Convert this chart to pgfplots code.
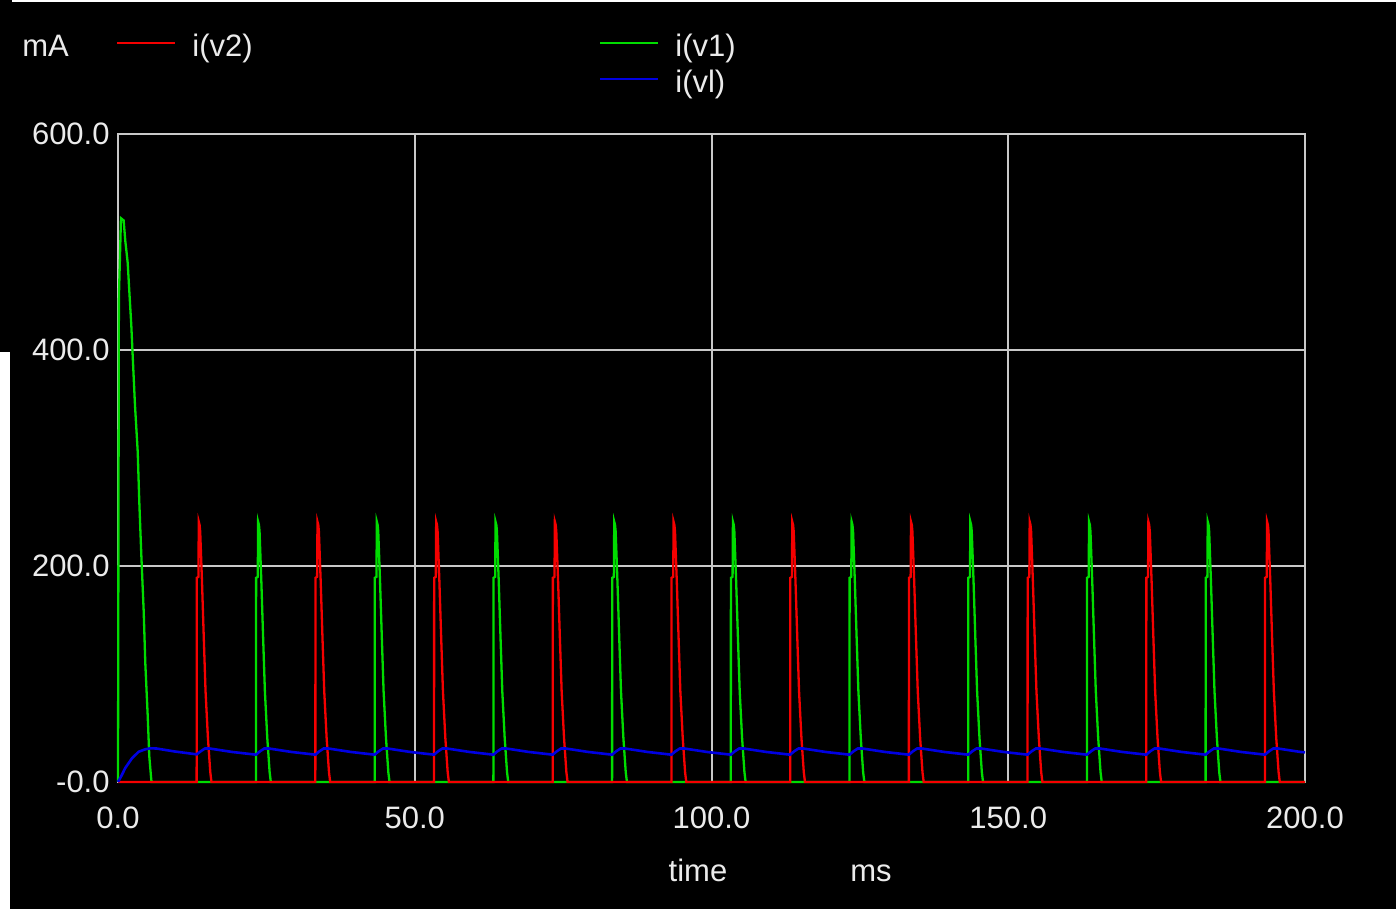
\documentclass[border=0pt]{standalone}
\usepackage{fontspec}
\setmainfont{Liberation Sans}
\usepackage{pgfplots}
\pgfplotsset{compat=1.18}
\definecolor{gridcol}{RGB}{200,200,200}
\definecolor{txtcol}{RGB}{235,235,235}
\definecolor{myred}{RGB}{245,0,0}
\definecolor{mygreen}{RGB}{0,220,0}
\definecolor{myblue}{RGB}{0,0,225}
\begin{document}
\begin{tikzpicture}
\fill[black] (0pt,0pt) rectangle (698pt,454.5pt);
\fill[white] (0pt,0pt) rectangle (5pt,278.5pt);
\fill[white] (6pt,453.5pt) rectangle (698pt,454.5pt);
\begin{axis}[at={(59pt,63.5pt)}, anchor=south west, scale only axis,
  width=593.5pt, height=324pt,
  xmin=0, xmax=200, ymin=0, ymax=600,
  xtick={0,50,100,150,200}, xticklabels={0.0,50.0,100.0,150.0,200.0},
  ytick={0,200,400,600}, yticklabels={-0.0,200.0,400.0,600.0},
  grid=major, major grid style={gridcol, line width=1pt},
  axis line style={gridcol, line width=1pt},
  major tick length=0pt, tick style={draw=none},
  ticklabel style={font=\fontsize{15.5}{18}\selectfont, text=txtcol, inner sep=0pt},
  xticklabel style={anchor=base, yshift=-23.5pt},
  yticklabel style={anchor=east, xshift=-4pt},
  clip=false]
% i(v1)
\addplot[mygreen, line width=1.15pt] coordinates {
(0,0)(0.15,448)(0.5,522)(0.95,520)(1.23,501)(1.63,481)(1.9,455)(2.24,423)(2.53,388)(2.86,349)(3.32,306)(3.59,259)(3.93,210)(4.33,158)(4.6,110)(5.0,62)(5.27,24)(5.56,5)(5.65,0)
(23.25,0)(23.27,189)(23.55,190)(23.61,241)(23.75,238)(23.85,232)(24.15,186)(24.45,134)(24.75,84)(25.15,41)(25.55,9)(25.75,0)
(43.25,0)(43.27,189)(43.55,190)(43.61,241)(43.75,238)(43.85,232)(44.15,186)(44.45,134)(44.75,84)(45.15,41)(45.55,9)(45.75,0)
(63.25,0)(63.27,189)(63.55,190)(63.61,241)(63.75,238)(63.85,232)(64.15,186)(64.45,134)(64.75,84)(65.15,41)(65.55,9)(65.75,0)
(83.25,0)(83.27,189)(83.55,190)(83.61,241)(83.75,238)(83.85,232)(84.15,186)(84.45,134)(84.75,84)(85.15,41)(85.55,9)(85.75,0)
(103.25,0)(103.27,189)(103.55,190)(103.61,241)(103.75,238)(103.85,232)(104.15,186)(104.45,134)(104.75,84)(105.15,41)(105.55,9)(105.75,0)
(123.25,0)(123.27,189)(123.55,190)(123.61,241)(123.75,238)(123.85,232)(124.15,186)(124.45,134)(124.75,84)(125.15,41)(125.55,9)(125.75,0)
(143.25,0)(143.27,189)(143.55,190)(143.61,241)(143.75,238)(143.85,232)(144.15,186)(144.45,134)(144.75,84)(145.15,41)(145.55,9)(145.75,0)
(163.25,0)(163.27,189)(163.55,190)(163.61,241)(163.75,238)(163.85,232)(164.15,186)(164.45,134)(164.75,84)(165.15,41)(165.55,9)(165.75,0)
(183.25,0)(183.27,189)(183.55,190)(183.61,241)(183.75,238)(183.85,232)(184.15,186)(184.45,134)(184.75,84)(185.15,41)(185.55,9)(185.75,0)
(200,0)
};
% i(v2)
\addplot[myred, line width=1.15pt] coordinates {
(0,0)
(13.25,0)(13.27,189)(13.55,190)(13.61,241)(13.75,238)(13.85,232)(14.15,186)(14.45,134)(14.75,84)(15.15,41)(15.55,9)(15.75,0)
(33.25,0)(33.27,189)(33.55,190)(33.61,241)(33.75,238)(33.85,232)(34.15,186)(34.45,134)(34.75,84)(35.15,41)(35.55,9)(35.75,0)
(53.25,0)(53.27,189)(53.55,190)(53.61,241)(53.75,238)(53.85,232)(54.15,186)(54.45,134)(54.75,84)(55.15,41)(55.55,9)(55.75,0)
(73.25,0)(73.27,189)(73.55,190)(73.61,241)(73.75,238)(73.85,232)(74.15,186)(74.45,134)(74.75,84)(75.15,41)(75.55,9)(75.75,0)
(93.25,0)(93.27,189)(93.55,190)(93.61,241)(93.75,238)(93.85,232)(94.15,186)(94.45,134)(94.75,84)(95.15,41)(95.55,9)(95.75,0)
(113.25,0)(113.27,189)(113.55,190)(113.61,241)(113.75,238)(113.85,232)(114.15,186)(114.45,134)(114.75,84)(115.15,41)(115.55,9)(115.75,0)
(133.25,0)(133.27,189)(133.55,190)(133.61,241)(133.75,238)(133.85,232)(134.15,186)(134.45,134)(134.75,84)(135.15,41)(135.55,9)(135.75,0)
(153.25,0)(153.27,189)(153.55,190)(153.61,241)(153.75,238)(153.85,232)(154.15,186)(154.45,134)(154.75,84)(155.15,41)(155.55,9)(155.75,0)
(173.25,0)(173.27,189)(173.55,190)(173.61,241)(173.75,238)(173.85,232)(174.15,186)(174.45,134)(174.75,84)(175.15,41)(175.55,9)(175.75,0)
(193.25,0)(193.27,189)(193.55,190)(193.61,241)(193.75,238)(193.85,232)(194.15,186)(194.45,134)(194.75,84)(195.15,41)(195.55,9)(195.75,0)
(200,0)
};
% i(vl)
\addplot[myblue, line width=1.3pt] coordinates {
(0,0)(0.6,6)(1.23,13)(2.36,22)(3.48,28)(4.6,30.3)(5.45,31.2)(6.5,31)(9.5,28.3)
(13.25,25.6)(13.95,28.5)(14.65,31)(15.45,31)(19.25,27.8)
(23.25,25.3)(23.95,28.5)(24.65,31)(25.45,31)(29.25,27.8)
(33.25,25.3)(33.95,28.5)(34.65,31)(35.45,31)(39.25,27.8)
(43.25,25.3)(43.95,28.5)(44.65,31)(45.45,31)(49.25,27.8)
(53.25,25.3)(53.95,28.5)(54.65,31)(55.45,31)(59.25,27.8)
(63.25,25.3)(63.95,28.5)(64.65,31)(65.45,31)(69.25,27.8)
(73.25,25.3)(73.95,28.5)(74.65,31)(75.45,31)(79.25,27.8)
(83.25,25.3)(83.95,28.5)(84.65,31)(85.45,31)(89.25,27.8)
(93.25,25.3)(93.95,28.5)(94.65,31)(95.45,31)(99.25,27.8)
(103.25,25.3)(103.95,28.5)(104.65,31)(105.45,31)(109.25,27.8)
(113.25,25.3)(113.95,28.5)(114.65,31)(115.45,31)(119.25,27.8)
(123.25,25.3)(123.95,28.5)(124.65,31)(125.45,31)(129.25,27.8)
(133.25,25.3)(133.95,28.5)(134.65,31)(135.45,31)(139.25,27.8)
(143.25,25.3)(143.95,28.5)(144.65,31)(145.45,31)(149.25,27.8)
(153.25,25.3)(153.95,28.5)(154.65,31)(155.45,31)(159.25,27.8)
(163.25,25.3)(163.95,28.5)(164.65,31)(165.45,31)(169.25,27.8)
(173.25,25.3)(173.95,28.5)(174.65,31)(175.45,31)(179.25,27.8)
(183.25,25.3)(183.95,28.5)(184.65,31)(185.45,31)(189.25,27.8)
(193.25,25.3)(193.95,28.5)(194.65,31)(195.45,31)(199.25,27.8)
(200,27.5)
};
\end{axis}
\begin{scope}[every node/.style={font=\fontsize{15.5}{18}\selectfont, text=txtcol, inner sep=0pt}]
\node[anchor=base west] at (11pt,426pt) {mA};
\draw[myred, line width=1pt] (58.5pt,433pt) -- (87.5pt,433pt);
\node[anchor=base west] at (96pt,426pt) {i(v2)};
\draw[mygreen, line width=1pt] (300pt,433pt) -- (329pt,433pt);
\node[anchor=base west] at (337.5pt,426pt) {i(v1)};
\draw[myblue, line width=1pt] (300pt,415pt) -- (329pt,415pt);
\node[anchor=base west] at (337.5pt,408pt) {i(vl)};
\node[anchor=base] at (349pt,13.5pt) {time};
\node[anchor=base] at (435.5pt,13.5pt) {ms};
\end{scope}
\end{tikzpicture}
\end{document}
